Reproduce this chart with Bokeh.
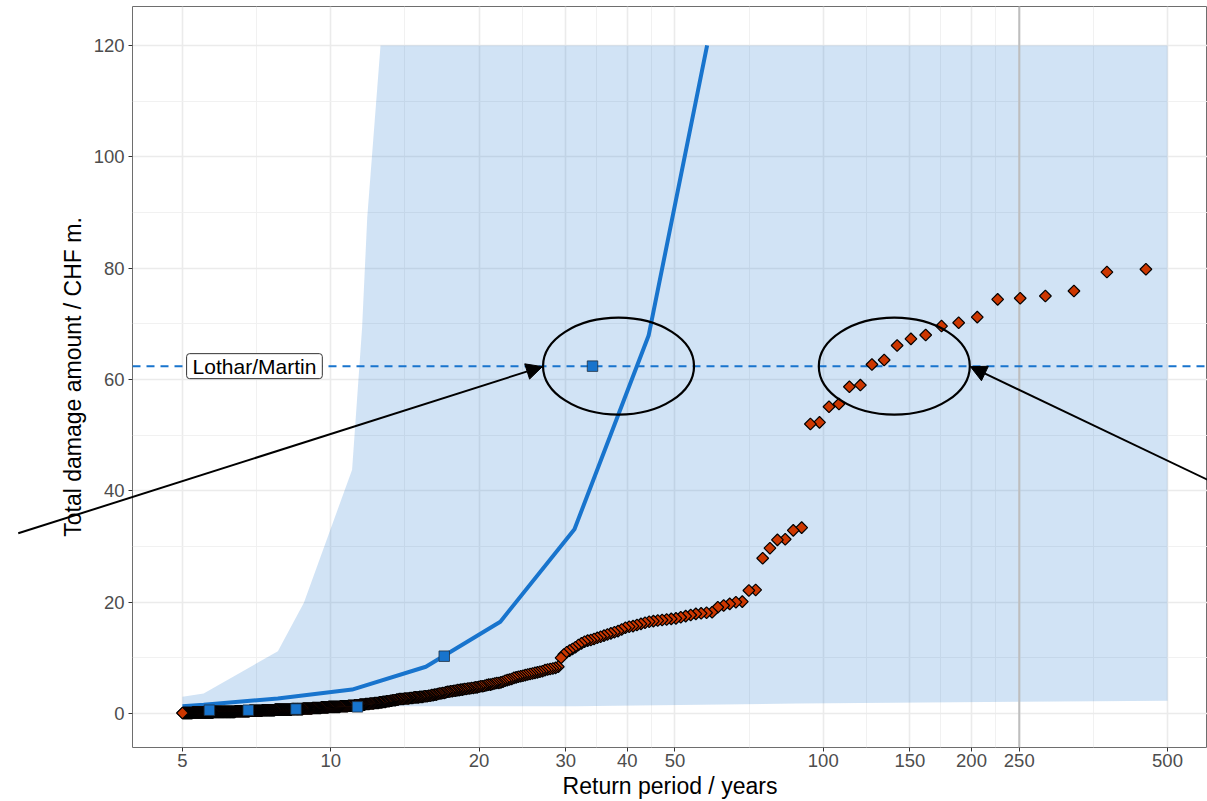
import numpy as np
from bokeh.plotting import figure
from bokeh.models import FixedTicker, Range1d, Label, Arrow, NormalHead, PrintfTickFormatter
from bokeh.embed import file_html
from bokeh.resources import INLINE

# ---------------- data ----------------
x_ticks = [5, 10, 20, 30, 40, 50, 100, 150, 200, 250, 500]
x_minor = [7.07, 14.14, 24.49, 34.64, 44.72, 70.71, 122.47, 173.21, 223.61, 353.55]
y_ticks = [0, 20, 40, 60, 80, 100, 120]
y_minor = [10, 30, 50, 70, 90, 110]

# fitted return-level curve (shown up to the 120 limit)
fit_T = [5, 5.52, 7.81, 11.05, 15.6, 22.1, 31.25, 44.2, 58.1]
fit_damage = [1.3, 1.6, 2.7, 4.3, 8.4, 16.5, 33.1, 67.9, 120.0]

# confidence band
ci_T = [5, 5.52, 7.81, 8.82, 11.05, 11.58, 11.86, 12.62, 31.25, 88.4, 250, 500]
ci_lower = [1.3, 1.3, 1.3, 1.3, 1.3, 1.3, 1.3, 1.3, 1.3, 1.8, 2.1, 2.3]
ci_upper = [3.0, 3.6, 11.2, 19.9, 43.8, 69.4, 89.1, 120, 120, 120, 120, 120]

# observed events (blue squares)
obs_T = [34.0, 17.0, 11.33, 8.5, 6.8, 5.67]
obs_damage = [62.4, 10.3, 1.2, 0.8, 0.6, 0.6]

lothar_damage = 62.4
lothar_label = "Lothar/Martin"
lothar_label_T = 7.0
marked_T = 250

# simulated events, sorted by rank (rank 5 .. 452 of 2260 simulated years)
sim_years = 2260
first_rank = 5
sim_damage_top = [79.8, 79.3, 75.9, 75.0, 74.6, 74.4, 71.2, 70.2, 69.6, 68.0,
                  67.3, 66.1, 63.5, 62.7, 59.0, 58.7, 55.6, 55.1, 52.3, 52.0,
                  33.4, 32.9, 31.3, 31.2, 29.7, 27.9, 22.2, 22.1,
                  20.1, 20.0, 19.7, 19.4, 19.1]
sim_damage_mid = [18.2, 18.1, 18.0, 17.9, 17.7, 17.5, 17.3, 17.1, 17.0, 16.9,
                  16.8, 16.7, 16.6, 16.5, 16.3, 16.1, 15.9, 15.7, 15.6, 15.4,
                  15.1, 14.8, 14.6, 14.4, 14.2, 14.0, 13.8, 13.6, 13.4, 13.2,
                  13.1, 12.9, 12.6, 12.3, 11.9, 11.6, 11.3, 11.0, 10.6, 10.0,
                  8.4, 8.2, 8.1, 8.0, 7.9, 7.8, 7.6, 7.5, 7.4, 7.3,
                  7.2, 7.1, 7.0, 6.9, 6.8, 6.7, 6.6, 6.5, 6.4, 6.2,
                  6.1, 6.0, 5.9, 5.7, 5.6, 5.5, 5.5, 5.4, 5.3, 5.2,
                  5.2, 5.1, 5.0, 4.9, 4.9, 4.8, 4.7, 4.7, 4.6, 4.6,
                  4.5, 4.5, 4.4, 4.4, 4.3, 4.3, 4.2, 4.2, 4.1, 4.1,
                  4.0, 4.0, 3.9, 3.9, 3.8, 3.7, 3.7, 3.6, 3.6, 3.5,
                  3.4, 3.4, 3.3, 3.3, 3.2, 3.2, 3.1, 3.1, 3.1, 3.0,
                  3.0, 3.0, 2.9, 2.9, 2.9, 2.9, 2.8, 2.8, 2.8, 2.7,
                  2.7, 2.7, 2.7, 2.6, 2.6, 2.6, 2.6, 2.5, 2.5, 2.4,
                  2.4, 2.4, 2.3, 2.3, 2.2, 2.2, 2.2, 2.1, 2.1, 2.1, 2.0, 2.0]
sim_damage_low = [2.0, 1.9, 1.9, 1.9, 1.9, 1.8, 1.8, 1.8, 1.8, 1.7,
                  1.7, 1.7, 1.7, 1.6, 1.6, 1.6, 1.6, 1.6, 1.5, 1.5,
                  1.5, 1.5, 1.5, 1.4, 1.4, 1.4, 1.4, 1.4, 1.4, 1.3,
                  1.3, 1.3, 1.3, 1.3, 1.3, 1.3, 1.3, 1.2, 1.2, 1.2,
                  1.2, 1.2, 1.2, 1.2, 1.2, 1.2, 1.2,
                  1.2, 1.2, 1.1, 1.1, 1.1, 1.1, 1.1, 1.1, 1.1, 1.1,
                  1.0, 1.0, 1.0, 1.0, 1.0, 1.0, 1.0, 1.0, 1.0, 1.0,
                  0.9, 0.9, 0.9, 0.9, 0.9, 0.9, 0.9, 0.9, 0.9, 0.9,
                  0.9, 0.8, 0.8, 0.8, 0.8, 0.8, 0.8, 0.8, 0.8, 0.8,
                  0.8, 0.8, 0.8, 0.8, 0.8, 0.7, 0.7, 0.7, 0.7, 0.7,
                  0.7, 0.7, 0.7, 0.7, 0.7, 0.7, 0.7, 0.7, 0.7, 0.7, 0.7,
                  0.7, 0.7, 0.7, 0.7, 0.7, 0.7, 0.6, 0.6, 0.6, 0.6,
                  0.6, 0.6, 0.6, 0.6, 0.6, 0.6, 0.6, 0.6, 0.6, 0.6,
                  0.6, 0.6, 0.6, 0.6, 0.5, 0.5, 0.5, 0.5, 0.5, 0.5,
                  0.5, 0.5, 0.5, 0.5, 0.5, 0.5, 0.5, 0.5, 0.5, 0.5,
                  0.5, 0.5, 0.5, 0.4, 0.4, 0.4, 0.4, 0.4, 0.4, 0.4,
                  0.4, 0.4, 0.4, 0.4, 0.4, 0.4, 0.4, 0.4, 0.4, 0.4,
                  0.4, 0.4, 0.4, 0.4, 0.4, 0.4, 0.3, 0.3, 0.3, 0.3, 0.3, 0.3, 0.3, 0.3,
                  0.3, 0.3, 0.3, 0.3, 0.3, 0.3, 0.3, 0.3, 0.3, 0.3,
                  0.3, 0.3, 0.3, 0.3, 0.3, 0.3, 0.3, 0.3, 0.3, 0.3,
                  0.3, 0.3, 0.3, 0.3, 0.3, 0.3, 0.3, 0.3, 0.3, 0.3,
                  0.2, 0.2, 0.2, 0.2, 0.2, 0.2, 0.2, 0.2, 0.2, 0.2,
                  0.2, 0.2, 0.2, 0.2, 0.2, 0.2, 0.2, 0.2, 0.2, 0.2,
                  0.2, 0.2, 0.2, 0.2, 0.2, 0.2, 0.2, 0.2, 0.2, 0.2,
                  0.2, 0.2, 0.2, 0.2, 0.2, 0.2, 0.2, 0.2, 0.2, 0.2,
                  0.1, 0.1, 0.1, 0.1, 0.1, 0.1, 0.1, 0.1, 0.1, 0.1,
                  0.1, 0.1, 0.1, 0.1, 0.1, 0.1, 0.1, 0.1, 0.1, 0.1, 0.1]

# annotation anchors (data coordinates)
ellipse_T = [38.4, 139.4]
ellipse_damage = [62.4, 62.4]
arrow_start_T = [2.32, 630.0]
arrow_start_damage = [32.5, 41.3]
arrow_end_T = [26.9, 199.0]
arrow_end_damage = [62.4, 62.4]

# ---------------- derived ----------------
sim_damage = np.array(sim_damage_top + sim_damage_mid + sim_damage_low)
sim_rank = np.arange(first_rank, first_rank + len(sim_damage))
sim_T = sim_years / sim_rank

# ---------------- layout / style ----------------
BLUE = "#1874CD"
RED = "#CD3700"
FONT = "Liberation Sans"

W, H = 1207, 801
B_LEFT, B_RIGHT, B_TOP, B_BOTTOM = 132, 0, 6, 53

x_lo, x_hi = 3.958, 602.8
y_lo, y_hi = -6.1, 127.0

p = figure(width=W, height=H, x_axis_type="log",
           x_range=Range1d(x_lo, x_hi), y_range=Range1d(y_lo, y_hi),
           output_backend="svg", toolbar_location=None,
           min_border_left=B_LEFT, min_border_right=B_RIGHT,
           min_border_top=B_TOP, min_border_bottom=B_BOTTOM)

p.background_fill_color = "white"
p.border_fill_color = "white"
p.outline_line_color = "#6E6E6E"
p.outline_line_width = 1

p.xaxis.ticker = FixedTicker(ticks=x_ticks, minor_ticks=x_minor)
p.yaxis.ticker = FixedTicker(ticks=y_ticks, minor_ticks=y_minor)
p.xaxis.formatter = PrintfTickFormatter(format="%d")

for g in (p.xgrid, p.ygrid):
    g.grid_line_color = "#EBEBEB"
    g.grid_line_width = 1.6
    g.minor_grid_line_color = "#EFEFEF"
    g.minor_grid_line_width = 0.9

for ax in (p.xaxis, p.yaxis):
    ax.axis_line_color = None
    ax.major_tick_line_color = "#333333"
    ax.major_tick_line_width = 1
    ax.major_tick_out = 4
    ax.major_tick_in = 0
    ax.minor_tick_line_color = None
    ax.major_label_text_font = FONT
    ax.major_label_text_font_size = "18.5px"
    ax.major_label_text_color = "#4D4D4D"
    ax.axis_label_text_font = FONT
    ax.axis_label_text_font_size = "23px"
    ax.axis_label_text_font_style = "normal"
    ax.axis_label_text_color = "black"

p.xaxis.axis_label = "Return period / years"
p.yaxis.axis_label = "Total damage amount / CHF m."
p.xaxis.major_label_standoff = 2
p.xaxis.axis_label_standoff = 3
p.yaxis.major_label_standoff = 4
p.yaxis.axis_label_standoff = 5

# confidence band
p.varea(x=ci_T, y1=ci_lower, y2=ci_upper, fill_color=BLUE, fill_alpha=0.2)

# vertical reference line at 250 years
p.line(x=[marked_T, marked_T], y=[y_lo, y_hi], line_color="#BEBEBE", line_width=2)

# fitted curve
p.line(x=fit_T, y=fit_damage, line_color=BLUE, line_width=4)

# Lothar/Martin level
p.line(x=[x_lo, x_hi], y=[lothar_damage, lothar_damage], line_color=BLUE,
       line_width=2, line_dash="8 6")

# simulated events
p.scatter(x=sim_T, y=sim_damage, marker="square", angle=np.pi / 4, size=8.3,
          fill_color=RED, line_color="#000000", line_width=1.2)

# observed events
p.scatter(x=obs_T, y=obs_damage, marker="square", size=10.5,
          fill_color=BLUE, line_color="#203040", line_width=0.8)

# ellipses
p.ellipse(x=ellipse_T, y=ellipse_damage, width=151, height=97,
          width_units="screen", height_units="screen",
          fill_color=None, line_color="black", line_width=2.2)

# label
p.add_layout(Label(x=lothar_label_T, y=lothar_damage, text=lothar_label,
                   text_align="center", text_baseline="middle",
                   text_font=FONT, text_font_size="21px", text_color="black",
                   background_fill_color="white", border_line_color="#333333",
                   border_line_width=1, padding=(6, 1), border_radius=3))

# ---------------- transparent overlay covering the whole canvas (for the arrows) ----------------
frame_w = W - B_LEFT - B_RIGHT
frame_h = H - B_TOP - B_BOTTOM
px_per_decade = frame_w / np.log10(x_hi / x_lo)
px_per_unit = frame_h / (y_hi - y_lo)
ox_lo = x_lo / 10 ** (B_LEFT / px_per_decade)
ox_hi = x_hi * 10 ** (B_RIGHT / px_per_decade)
oy_lo = y_lo - B_BOTTOM / px_per_unit
oy_hi = y_hi + B_TOP / px_per_unit

ov = figure(width=W, height=H, x_axis_type="log",
            x_range=Range1d(ox_lo, ox_hi), y_range=Range1d(oy_lo, oy_hi),
            output_backend="svg", toolbar_location=None,
            x_axis_location=None, y_axis_location=None, min_border=0)
ov.grid.visible = False
ov.outline_line_color = None
ov.background_fill_color = None
ov.border_fill_color = None
ov.margin = (-H, 0, 0, 0)

for xs, ys, xe, ye in zip(arrow_start_T, arrow_start_damage, arrow_end_T, arrow_end_damage):
    ov.add_layout(Arrow(x_start=xs, y_start=ys, x_end=xe, y_end=ye,
                        line_color="black", line_width=2,
                        end=NormalHead(size=16, fill_color="black", line_color="black")))

open("out.html", "w").write(file_html([p, ov], INLINE))
